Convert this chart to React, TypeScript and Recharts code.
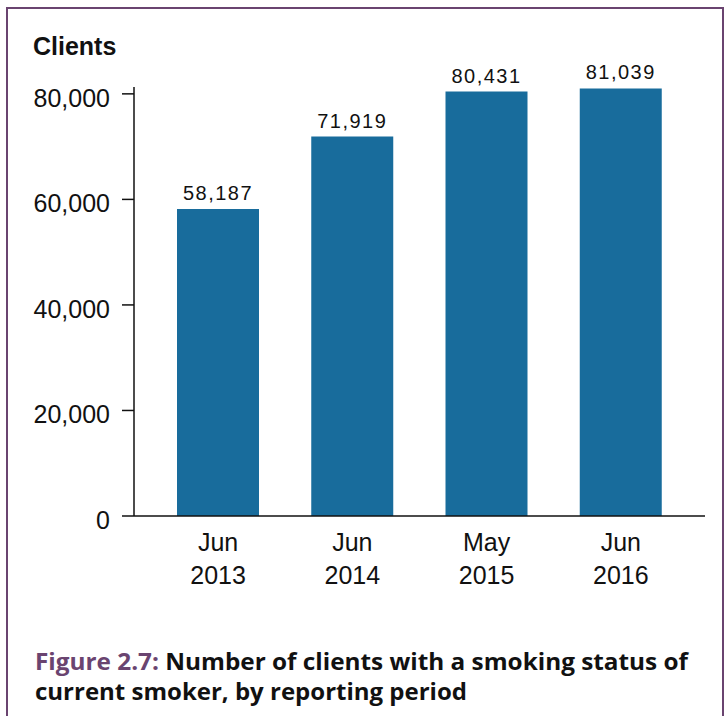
import React from 'react'
import { BarChart, Bar, XAxis, YAxis, LabelList } from 'recharts'

const periods = ['Jun|2013', 'Jun|2014', 'May|2015', 'Jun|2016']
const clients = [58187, 71919, 80431, 81039]
const yTicks = [0, 20000, 40000, 60000, 80000]

const data = periods.map((p, i) => ({ period: p, clients: clients[i] }))

const BAR = '#186c9c'
const PURPLE = '#6a4470'
const FONT = '"Liberation Sans", Arial, sans-serif'
const CAPTION_FONT = '"Open Sans", "Noto Sans", sans-serif'

const fmt = (v: number) => v.toLocaleString('en-US')

function XTick({ x, y, payload }: any) {
  const [a, b] = String(payload.value).split('|')
  return (
    <text x={x} y={y} textAnchor="middle" fontSize={25} fontFamily={FONT} fill="#111">
      <tspan x={x} dy={27}>{a}</tspan>
      <tspan x={x} dy={33}>{b}</tspan>
    </text>
  )
}

function YTick({ x, y, payload }: any) {
  return (
    <text x={x} y={y} dy={13} textAnchor="end" fontSize={25} fontFamily={FONT} fill="#111">
      {fmt(payload.value)}
    </text>
  )
}

export default function App() {
  return (
    <div style={{ position: 'absolute', left: 0, top: 0, width: 726, height: 716, background: '#fff', overflow: 'hidden' }}>
      <div
        style={{
          position: 'absolute',
          left: 6,
          top: 7,
          width: 714,
          height: 720,
          borderTop: `2px solid ${PURPLE}`,
          borderLeft: `2px solid ${PURPLE}`,
          borderRight: `2px solid ${PURPLE}`,
        }}
      />
      <div
        style={{
          position: 'absolute',
          left: 33,
          top: 32,
          fontFamily: FONT,
          fontWeight: 'bold',
          fontSize: 25,
          color: '#111',
        }}
      >
        Clients
      </div>
      <div style={{ position: 'absolute', left: 0, top: 0 }}>
        <BarChart width={726} height={600} data={data} margin={{ top: 87, right: 21, bottom: 24, left: 0 }}>
          <XAxis
            dataKey="period"
            height={60}
            padding={{ left: 17, right: 17 }}
            tickLine={false}
            axisLine={{ stroke: '#111', strokeWidth: 1.5 }}
            tick={<XTick />}
            interval={0}
          />
          <YAxis
            width={134}
            domain={[0, 81300]}
            ticks={yTicks}
            interval={0}
            tickSize={12}
            tickMargin={12}
            tickLine={{ stroke: '#111', strokeWidth: 1.5 }}
            axisLine={{ stroke: '#111', strokeWidth: 1.5 }}
            tick={<YTick />}
          />
          <Bar dataKey="clients" fill={BAR} barSize={82} isAnimationActive={false}>
            <LabelList
              dataKey="clients"
              position="top"
              offset={9}
              formatter={(v: any) => fmt(Number(v))}
              style={{ fontFamily: FONT, fontSize: 20, letterSpacing: 1.5, fill: '#111' }}
            />
          </Bar>
        </BarChart>
      </div>
      <svg width={726} height={716} style={{ position: 'absolute', left: 0, top: 0 }}>
        <text
          x={35}
          y={670}
          fontFamily={CAPTION_FONT}
          fontWeight="bold"
          fontSize={24}
          fill="#111"
          textLength={653}
          lengthAdjust="spacingAndGlyphs"
        >
          <tspan fill={PURPLE}>Figure 2.7:</tspan> Number of clients with a smoking status of
        </text>
        <text
          x={35}
          y={700}
          fontFamily={CAPTION_FONT}
          fontWeight="bold"
          fontSize={24}
          fill="#111"
          textLength={432}
          lengthAdjust="spacingAndGlyphs"
        >
          current smoker, by reporting period
        </text>
      </svg>
    </div>
  )
}
